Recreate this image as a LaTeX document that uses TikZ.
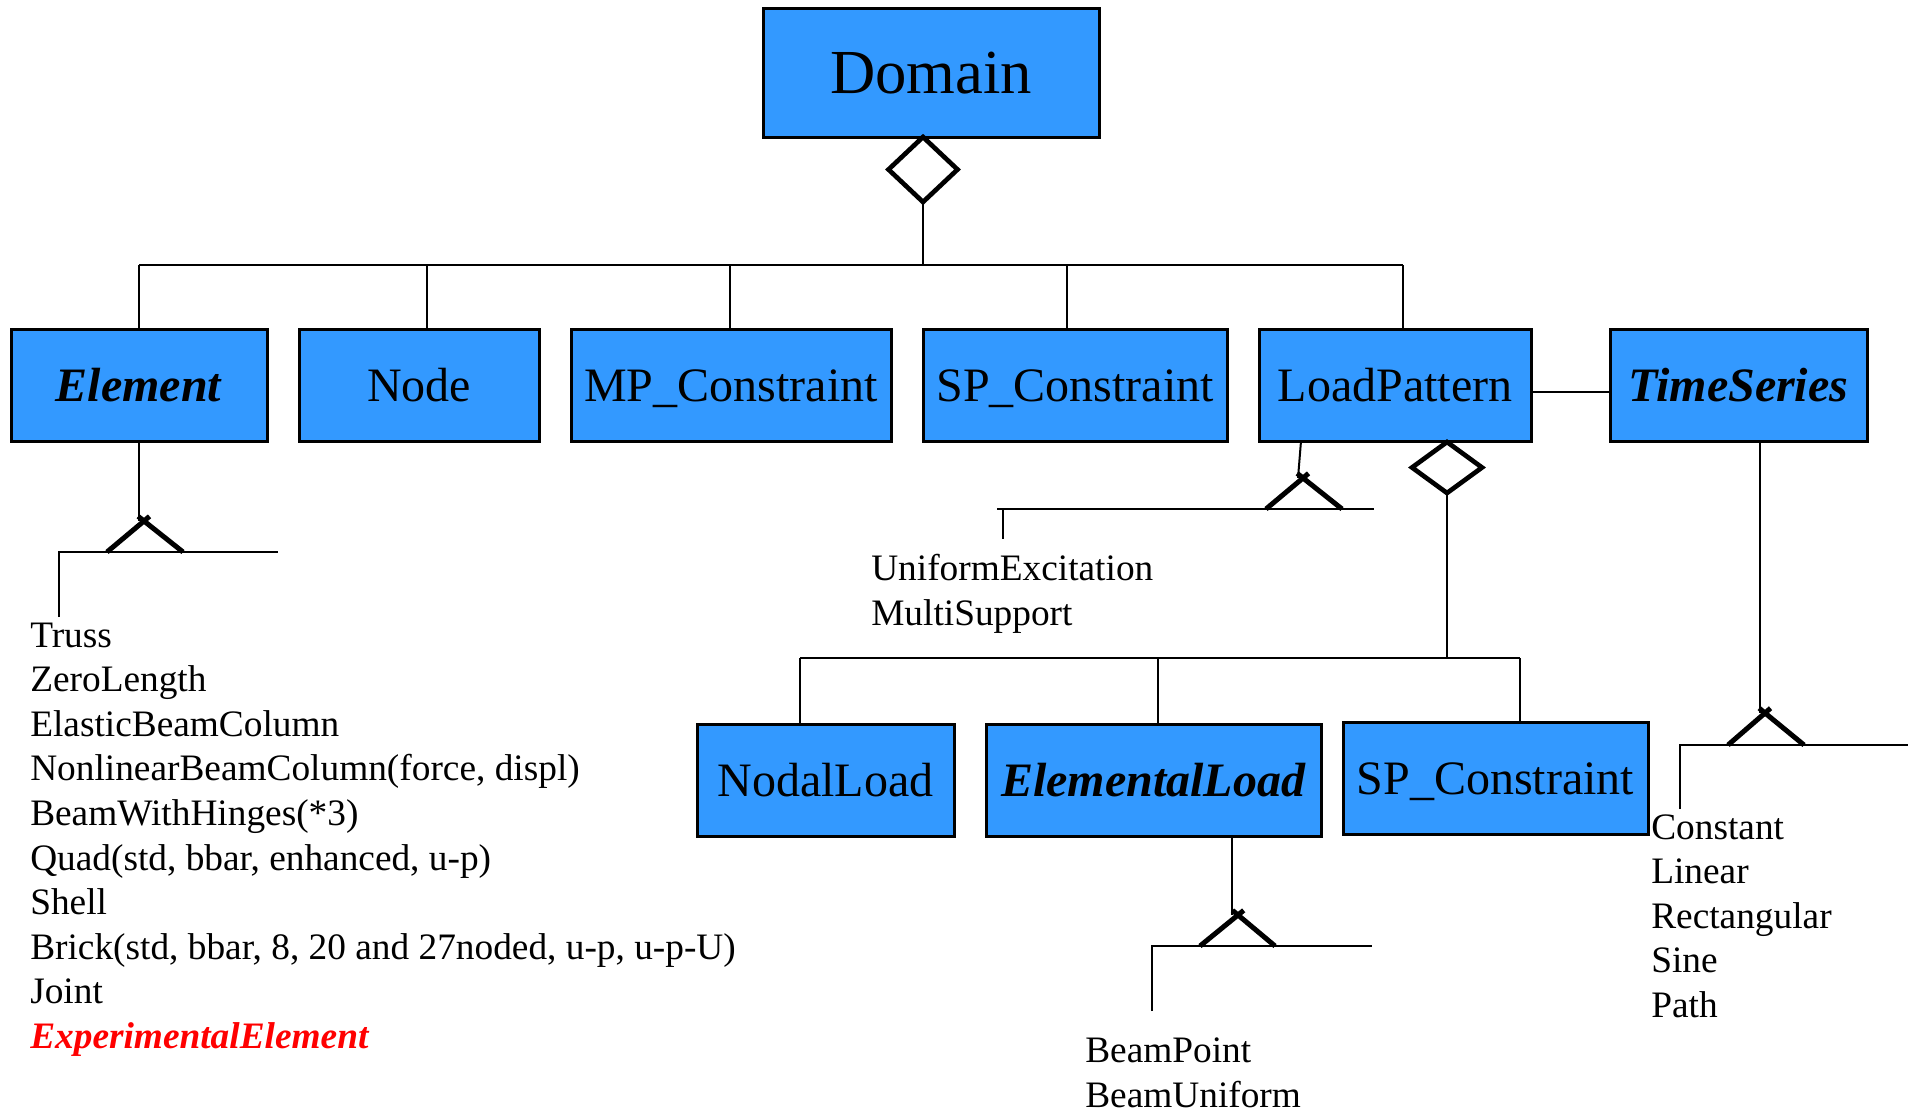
\documentclass[tikz,border=0pt]{standalone}
\usepackage{fontspec}
\setmainfont{Liberation Serif}
\usetikzlibrary{shapes.geometric,calc}
\definecolor{boxblue}{RGB}{51,153,255}
\begin{document}
\begin{tikzpicture}[x=0.75pt,y=-0.75pt,
  cls/.style={draw=black, fill=boxblue, line width=2.25pt, inner sep=0pt, outer sep=0pt,
    font=\fontsize{36}{40}\selectfont, text height=24pt, text depth=0pt},
  wire/.style={line width=1.5pt},
  agg/.style={shape=diamond, draw=black, fill=white, line width=3.5pt, inner sep=0pt, outer sep=0pt},
  gen/.style={line width=3.75pt},
  item/.style={anchor=base west, inner sep=0pt, font=\fontsize{28}{31}\selectfont}
]
\fill[white] (0,0) rectangle (1908,1113);
\useasboundingbox (0,0) rectangle (1908,1113);

% class boxes
\node[cls, minimum width=336*0.75pt, minimum height=128*0.75pt, font=\fontsize{47}{52}\selectfont, text height=31pt] (dom) at (931,73) {Domain};
\node[cls, minimum width=256*0.75pt, minimum height=112*0.75pt] (el) at (139,385) {\textbf{\textit{Element}}};
\node[cls, minimum width=240*0.75pt, minimum height=112*0.75pt] (nd) at (419,385) {Node};
\node[cls, minimum width=320*0.75pt, minimum height=112*0.75pt] (mp) at (731,385) {MP\_Constraint};
\node[cls, minimum width=304*0.75pt, minimum height=112*0.75pt] (sp) at (1075,385) {SP\_Constraint};
\node[cls, minimum width=272*0.75pt, minimum height=112*0.75pt] (lp) at (1395,385) {LoadPattern};
\node[cls, minimum width=257*0.75pt, minimum height=112*0.75pt] (ts) at (1738.5,385) {\textbf{\textit{TimeSeries}}};
\node[cls, minimum width=257*0.75pt, minimum height=112*0.75pt] (nl) at (825.5,780) {NodalLoad};
\node[cls, minimum width=335*0.75pt, minimum height=112*0.75pt] (eld) at (1153.5,780) {\textbf{\textit{ElementalLoad}}};
\node[cls, minimum width=305*0.75pt, minimum height=112*0.75pt] (sp2) at (1495.5,778) {SP\_Constraint};

% aggregation diamonds
\node[agg, minimum width=69*0.75pt, minimum height=65*0.75pt] (dd) at (923,169.5) {};
\node[agg, minimum width=70*0.75pt, minimum height=51*0.75pt] (ld) at (1447,467.5) {};

% Domain aggregation tree
\coordinate (b-mid) at (923,265);
\coordinate (b-el) at (139,265);
\coordinate (b-nd) at (427,265);
\coordinate (b-mp) at (730,265);
\coordinate (b-sp) at (1067,265);
\coordinate (b-lp) at (1403,265);
\draw[wire] (dd.south) -- (b-mid);
\draw[wire] (b-el) -- (b-lp);
\draw[wire] (b-el) -- (el.north);
\draw[wire] (b-nd) -- (b-nd |- nd.north);
\draw[wire] (b-mp) -- (b-mp |- mp.north);
\draw[wire] (b-sp) -- (b-sp |- sp.north);
\draw[wire] (b-lp) -- (b-lp |- lp.north);

% LoadPattern -- TimeSeries
\draw[wire] ([yshift=-5.25pt]lp.east) -- ([yshift=-5.25pt]ts.west);

% LoadPattern aggregation tree
\coordinate (l-mid) at (1447,658);
\coordinate (l-nl) at (800,658);
\coordinate (l-eld) at (1158,658);
\coordinate (l-sp) at (1520,658);
\draw[wire] (ld.south) -- (l-mid);
\draw[wire] (l-nl) -- (l-sp);
\draw[wire] (l-nl) -- (l-nl |- nl.north);
\draw[wire] (l-eld) -- (l-eld |- eld.north);
\draw[wire] (l-sp) -- (l-sp |- sp2.north);

% Element subclasses
\coordinate (e-ap) at (144,521);
\coordinate (e-bl) at (107,552);
\coordinate (e-br) at (183,552);
\coordinate (e-hl) at (59,552);
\coordinate (e-hr) at (278,552);
\coordinate (e-end) at (59,617);
\draw[wire] (el.south) -- (el.south |- e-ap);
\draw[wire] (e-end) -- (e-hl) -- (e-hr);
\draw[gen] (e-bl) -- ($(e-bl)!1.15!(e-ap)$);
\draw[gen] (e-br) -- ($(e-br)!1.15!(e-ap)$);

% LoadPattern subclasses
\coordinate (p-top) at (1301,441);
\coordinate (p-bot) at (1298,478);
\coordinate (p-ap) at (1303,478);
\coordinate (p-bl) at (1266,509);
\coordinate (p-br) at (1342,509);
\coordinate (p-hl) at (997,509);
\coordinate (p-hr) at (1374,509);
\coordinate (p-vt) at (1003,509);
\coordinate (p-end) at (1003,539);
\draw[wire] (p-top) -- (p-bot);
\draw[wire] (p-hl) -- (p-hr);
\draw[wire] (p-vt) -- (p-end);
\draw[gen] (p-bl) -- ($(p-bl)!1.15!(p-ap)$);
\draw[gen] (p-br) -- ($(p-br)!1.15!(p-ap)$);

% ElementalLoad subclasses
\coordinate (d-ap) at (1238,915);
\coordinate (d-bl) at (1200,946);
\coordinate (d-br) at (1275,946);
\coordinate (d-hl) at (1152,946);
\coordinate (d-hr) at (1372,946);
\coordinate (d-end) at (1152,1011);
\draw[wire] (eld.south -| 1232,0) -- (1232,915);
\draw[wire] (d-end) -- (d-hl) -- (d-hr);
\draw[gen] (d-bl) -- ($(d-bl)!1.15!(d-ap)$);
\draw[gen] (d-br) -- ($(d-br)!1.15!(d-ap)$);

% TimeSeries subclasses
\coordinate (t-ap) at (1765,713);
\coordinate (t-bl) at (1728,745);
\coordinate (t-br) at (1804,745);
\coordinate (t-hl) at (1680,745);
\coordinate (t-hr) at (1908,745);
\coordinate (t-end) at (1680,809);
\draw[wire] (ts.south -| 1760,0) -- (1760,713);
\draw[wire] (t-end) -- (t-hl) -- (t-hr);
\draw[gen] (t-bl) -- ($(t-bl)!1.15!(t-ap)$);
\draw[gen] (t-br) -- ($(t-br)!1.15!(t-ap)$);

% subclass lists
\foreach \txt [count=\i from 0] in {Truss, ZeroLength, ElasticBeamColumn,
    {NonlinearBeamColumn(force, displ)}, BeamWithHinges(*3),
    {Quad(std, bbar, enhanced, u-p)}, Shell,
    {Brick(std, bbar, 8, 20 and 27noded, u-p, u-p-U)}, Joint}
  \node[item] (elist-\i) at (30,647+44.6*\i) {\txt};
\node[item, text=red] (elist-9) at (30,1048.4) {\textbf{\textit{ExperimentalElement}}};

\node[item] (pl-1) at (871,580) {UniformExcitation};
\node[item] (pl-2) at (871,625) {MultiSupport};

\node[item] (dl-1) at (1085,1062) {BeamPoint};
\node[item] (dl-2) at (1085,1107) {BeamUniform};

\foreach \txt [count=\i from 0] in {Constant, Linear, Rectangular, Sine, Path}
  \node[item] (tlist-\i) at (1651,839+44.5*\i) {\txt};
\end{tikzpicture}
\end{document}
